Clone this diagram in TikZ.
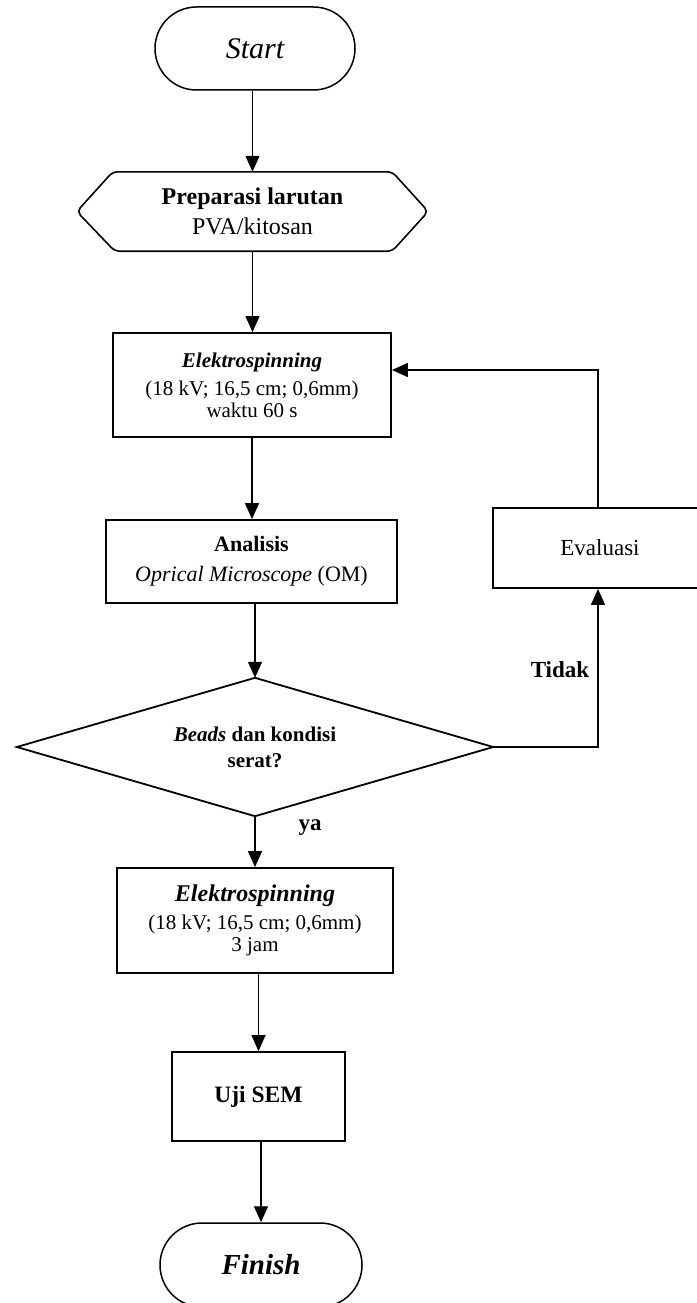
\documentclass[tikz,border=0pt]{standalone}
\usepackage{fontspec}
\setmainfont{Liberation Serif}
\usetikzlibrary{shapes.geometric,shapes.misc,arrows.meta}
\begin{document}
\begin{tikzpicture}[x=1pt,y=-1pt,
  box/.style={draw,line width=1.8pt,rectangle,inner sep=0pt,align=center},
  term/.style={draw,line width=1.5pt,rounded rectangle,inner sep=0pt},
  arr/.style={line width=1.3pt,-{Triangle[length=16pt,width=14pt]}},
  lbl/.style={font=\fontsize{23}{26}\selectfont\bfseries}]
\useasboundingbox (0,0) rectangle (696,1303);
\fill[white] (0,0) rectangle (696,1303);

\node[term,minimum width=200pt,minimum height=83pt,font=\fontsize{30}{34}\selectfont\itshape] (start) at (255,48.5) {Start};

\node[minimum width=351pt,minimum height=79pt,inner sep=0pt,align=center,font=\fontsize{24}{30}\selectfont] (prep) at (252.5,211.5) {\textbf{Preparasi larutan}\\PVA/kitosan};
\draw[line width=1.6pt,rounded corners=5pt] ([xshift=36pt]prep.north west) -- ([xshift=-36pt]prep.north east) -- (prep.east) -- ([xshift=-36pt]prep.south east) -- ([xshift=38pt]prep.south west) -- (prep.west) -- cycle;

\node[box,minimum width=278pt,minimum height=104pt,font=\fontsize{21}{22}\selectfont] (e1) at (252,385) {\textbf{\textit{Elektrospinning}}\\[6pt](18 kV; 16,5 cm; 0,6mm)\\waktu 60 s};

\node[box,minimum width=291pt,minimum height=83pt,font=\fontsize{22}{30}\selectfont] (ana) at (251.5,561.5) {\textbf{Analisis}\\\textit{Oprical Microscope} (OM)};

\node[minimum width=476pt,minimum height=138pt,inner sep=0pt,align=center,font=\fontsize{21}{26}\selectfont\bfseries] (dia) at (255,747) {\textit{Beads} dan kondisi\\serat?};
\draw[line width=1.8pt] (dia.north) -- (dia.east) -- (dia.south) -- (dia.west) -- cycle;

\node[box,minimum width=214pt,minimum height=80pt,font=\fontsize{23}{26}\selectfont] (eval) at (600,548) {Evaluasi};

\node[box,minimum width=276pt,minimum height=105pt,font=\fontsize{21}{22}\selectfont] (e2) at (255,920.5) {{\fontsize{24}{24}\selectfont\textbf{\textit{Elektrospinning}}}\\[6pt](18 kV; 16,5 cm; 0,6mm)\\3 jam};

\node[box,minimum width=173pt,minimum height=89pt,font=\fontsize{23.5}{26}\selectfont\bfseries] (uji) at (258.5,1096.5) {Uji SEM};

\node[term,minimum width=202pt,minimum height=84pt,font=\fontsize{29}{32}\selectfont\bfseries\itshape] (fin) at (261,1265) {Finish};

\node[lbl] (tidak) at (560,670) {Tidak};
\node[lbl] (ya) at (310,828) {ya};

\draw[arr] (start.south -| prep.north) -- (prep.north);
\draw[arr] (prep.south) -- (prep.south |- e1.north);
\draw[arr] (e1.south) -- (e1.south |- ana.north);
\draw[arr] (ana.south -| dia.north) -- (dia.north);
\draw[arr] (dia.east) -| ([xshift=-2pt]eval.south);
\draw[arr] ([xshift=-2pt]eval.north) |- ([yshift=15pt]e1.east);
\draw[arr] (dia.south) -- (dia.south |- e2.north);
\draw[arr] (uji.north |- e2.south) -- (uji.north);
\draw[arr] (fin.north |- uji.south) -- (fin.north);
\end{tikzpicture}
\end{document}
